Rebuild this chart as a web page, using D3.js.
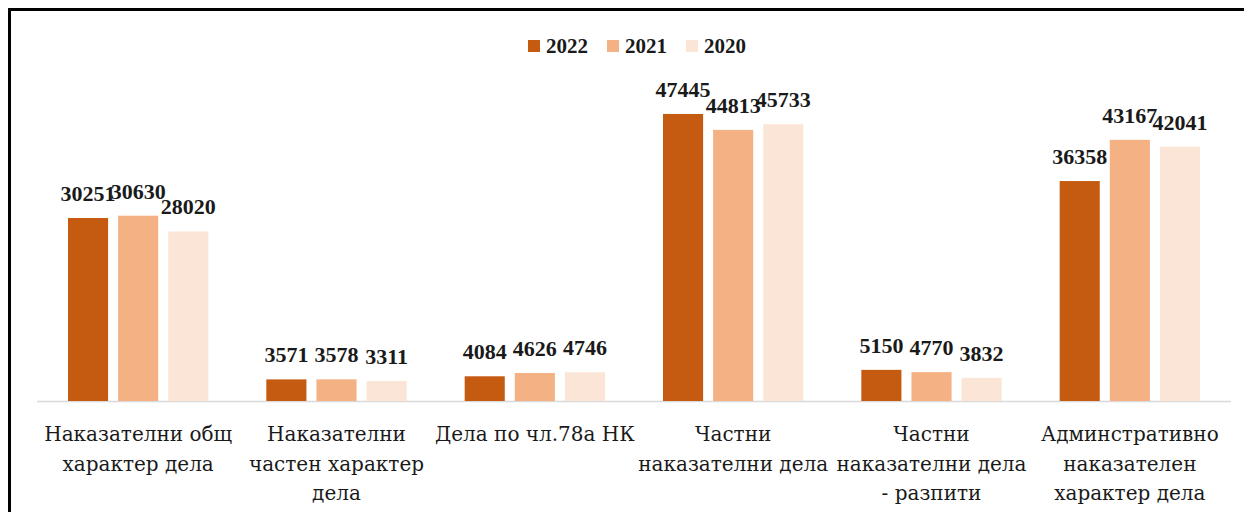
<!DOCTYPE html>
<html>
<head>
<meta charset="utf-8">
<script src="https://cdn.jsdelivr.net/npm/d3@7"></script>
<style>
  html, body { margin: 0; padding: 0; background: #fff; }
  svg { display: block; }
</style>
</head>
<body>
<div id="chart"></div>
<script>
// category labels, already broken into lines as in the original
const categories = [
  ["Наказателни общ", "характер дела"],
  ["Наказателни", "частен характер", "дела"],
  ["Дела по чл.78а НК"],
  ["Частни", "наказателни дела"],
  ["Частни", "наказателни дела", "- разпити"],
  ["Админстративно", "наказателен", "характер дела"]
];
const years = ["2022", "2021", "2020"];
const values2022 = [30251, 3571, 4084, 47445, 5150, 36358];
const values2021 = [30630, 3578, 4626, 44813, 4770, 43167];
const values2020 = [28020, 3311, 4746, 45733, 3832, 42041];
const colors = ["#C55A11", "#F4B183", "#FBE5D6"];

var width = 1244, height = 512;
var valueFont = "Liberation Serif";
var labelFont = "DejaVu Serif";

const svg = d3.select("#chart")
    .append("svg")
    .attr("width", width)
    .attr("height", height)

// outer frame (runs off the right and bottom edges)
svg.append("rect")
    .attr("x", 9.5)
    .attr("y", 9.5)
    .attr("width", 1260)
    .attr("height", 540)
    .attr("fill", "none")
    .attr("stroke", "#000")
    .attr("stroke-width", 3)

const series = [values2022, values2021, values2020];
const catKeys = categories.map(function(d, i) { return i; });

var x0 = d3.scaleBand()
    .domain(catKeys)
    .range([39, 1229])

var x1 = d3.scaleBand()
    .domain(years)
    .range([29, x0.bandwidth() - 29])
    .paddingInner(0.2)

var y = d3.scaleLinear()
    .domain([0, 50000])
    .range([401, 98.5])

// baseline
svg.append("line")
    .attr("x1", 37)
    .attr("x2", 1231)
    .attr("y1", 401.5)
    .attr("y2", 401.5)
    .attr("stroke", "#D9D9D9")
    .attr("stroke-width", 1.5)

var groups = svg.selectAll("g.cat")
    .data(catKeys)
    .enter()
    .append("g")
    .attr("class", "cat")
    .attr("transform", function(d) { return "translate(" + x0(d) + ",0)"; })

years.forEach(function(yr, si) {
    groups.append("rect")
        .attr("x", x1(yr))
        .attr("y", function(d) { return y(series[si][d]); })
        .attr("width", x1.bandwidth())
        .attr("height", function(d) { return y(0) - y(series[si][d]); })
        .attr("fill", colors[si])
})

years.forEach(function(yr, si) {
    groups.append("text")
        .attr("x", x1(yr) + x1.bandwidth() / 2)
        .attr("y", function(d) { return y(series[si][d]) - 17; })
        .attr("text-anchor", "middle")
        .attr("font-family", valueFont)
        .attr("font-weight", "bold")
        .attr("font-size", 22)
        .attr("fill", "#1a1a1a")
        .text(function(d) { return series[si][d]; })
})

// category axis labels
var catLabels = groups.append("text")
    .attr("text-anchor", "middle")
    .attr("font-family", labelFont)
    .attr("font-size", 20)
    .attr("fill", "#1a1a1a")

catLabels.selectAll("tspan")
    .data(function(d) { return categories[d]; })
    .enter()
    .append("tspan")
    .attr("x", x0.bandwidth() / 2)
    .attr("y", function(d, i) { return 441 + i * 29.5; })
    .text(function(d) { return d; })

// legend
var legend = svg.append("g")
var legendX = [528, 607, 686];
years.forEach(function(yr, i) {
    legend.append("rect")
        .attr("x", legendX[i])
        .attr("y", 40)
        .attr("width", 12)
        .attr("height", 12)
        .attr("fill", colors[i])
    legend.append("text")
        .attr("x", legendX[i] + 18)
        .attr("y", 53)
        .attr("font-family", valueFont)
        .attr("font-weight", "bold")
        .attr("font-size", 21)
        .attr("fill", "#1a1a1a")
        .text(yr)
})
</script>
</body>
</html>
